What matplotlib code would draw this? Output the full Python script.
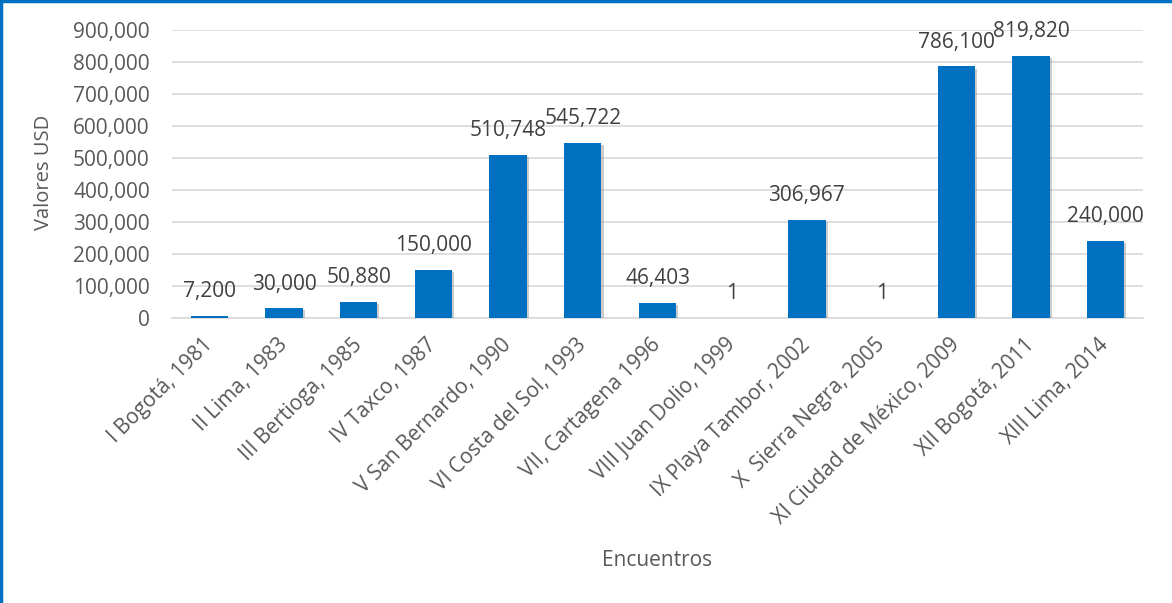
import matplotlib
matplotlib.use("Agg")
import matplotlib.pyplot as plt
import matplotlib.patheffects as pe
from matplotlib.ticker import FuncFormatter, MultipleLocator
from matplotlib.lines import Line2D

categories = ["I Bogotá, 1981", "II Lima, 1983", "III Bertioga, 1985", "IV Taxco, 1987",
              "V San Bernardo, 1990", "VI Costa del Sol, 1993", "VII, Cartagena 1996",
              "VIII Juan Dolio, 1999", "IX Playa Tambor, 2002", "X  Sierra Negra, 2005",
              "XI Ciudad de México, 2009", "XII Bogotá, 2011", "XIII Lima, 2014"]
values = [7200, 30000, 50880, 150000, 510748, 545722, 46403, 1, 306967, 1, 786100, 819820, 240000]

plt.rcParams['font.family'] = ['Open Sans', 'DejaVu Sans']
txt = '#595959'
bar_c = '#0070C0'

fig = plt.figure(figsize=(11.72, 6.03), dpi=100)
ax = fig.add_axes([172/1172, 1-318/603, (1143-172)/1172, (318-30)/603])

x = list(range(len(categories)))
ax.bar(x, values, width=0.5, color=bar_c, zorder=3,
       path_effects=[pe.SimplePatchShadow(offset=(1.5, -1.5), shadow_rgbFace='#9a9a9a', alpha=0.5),
                     pe.Normal()])
ax.set_xlim(-0.5, len(categories) - 0.5)
ax.set_ylim(0, 900000)
ax.yaxis.set_major_locator(MultipleLocator(100000))
ax.yaxis.set_major_formatter(FuncFormatter(lambda v, p: f"{int(v):,}"))
ax.grid(axis='y', color='#D9D9D9', linewidth=1.2, zorder=0)
ax.set_axisbelow(True)
for s in ['top', 'right', 'left']:
    ax.spines[s].set_visible(False)
ax.spines['bottom'].set_color('#D9D9D9')
ax.spines['bottom'].set_linewidth(1.2)
ax.tick_params(axis='both', length=0, labelsize=15, colors=txt)
ax.tick_params(axis='y', pad=16)
ax.set_xticks(x)
ax.set_xticklabels(categories, rotation=45, ha='right', va='center', rotation_mode='anchor')
ax.tick_params(axis='x', pad=17)

for xi, v in zip(x, values):
    ax.annotate(f"{v:,}", (xi, v), xytext=(0, 10), textcoords='offset points',
                ha='center', va='bottom', fontsize=15, color='#404040')

fig.text(44/1172, 1-172/603, "Valores USD", fontsize=14.5, color=txt, ha='center', va='center',
         rotation=90)
fig.text(657/1172, 1-561/603, "Encuentros", fontsize=15, color=txt, ha='center', va='center')

fig.add_artist(Line2D([0.001, 0.001], [0, 1], transform=fig.transFigure, color='#0070C0', linewidth=2.5))
fig.add_artist(Line2D([0, 1], [0.999, 0.999], transform=fig.transFigure, color='#0070C0', linewidth=2.5))

fig.savefig("out.png", dpi=100, facecolor='white')
